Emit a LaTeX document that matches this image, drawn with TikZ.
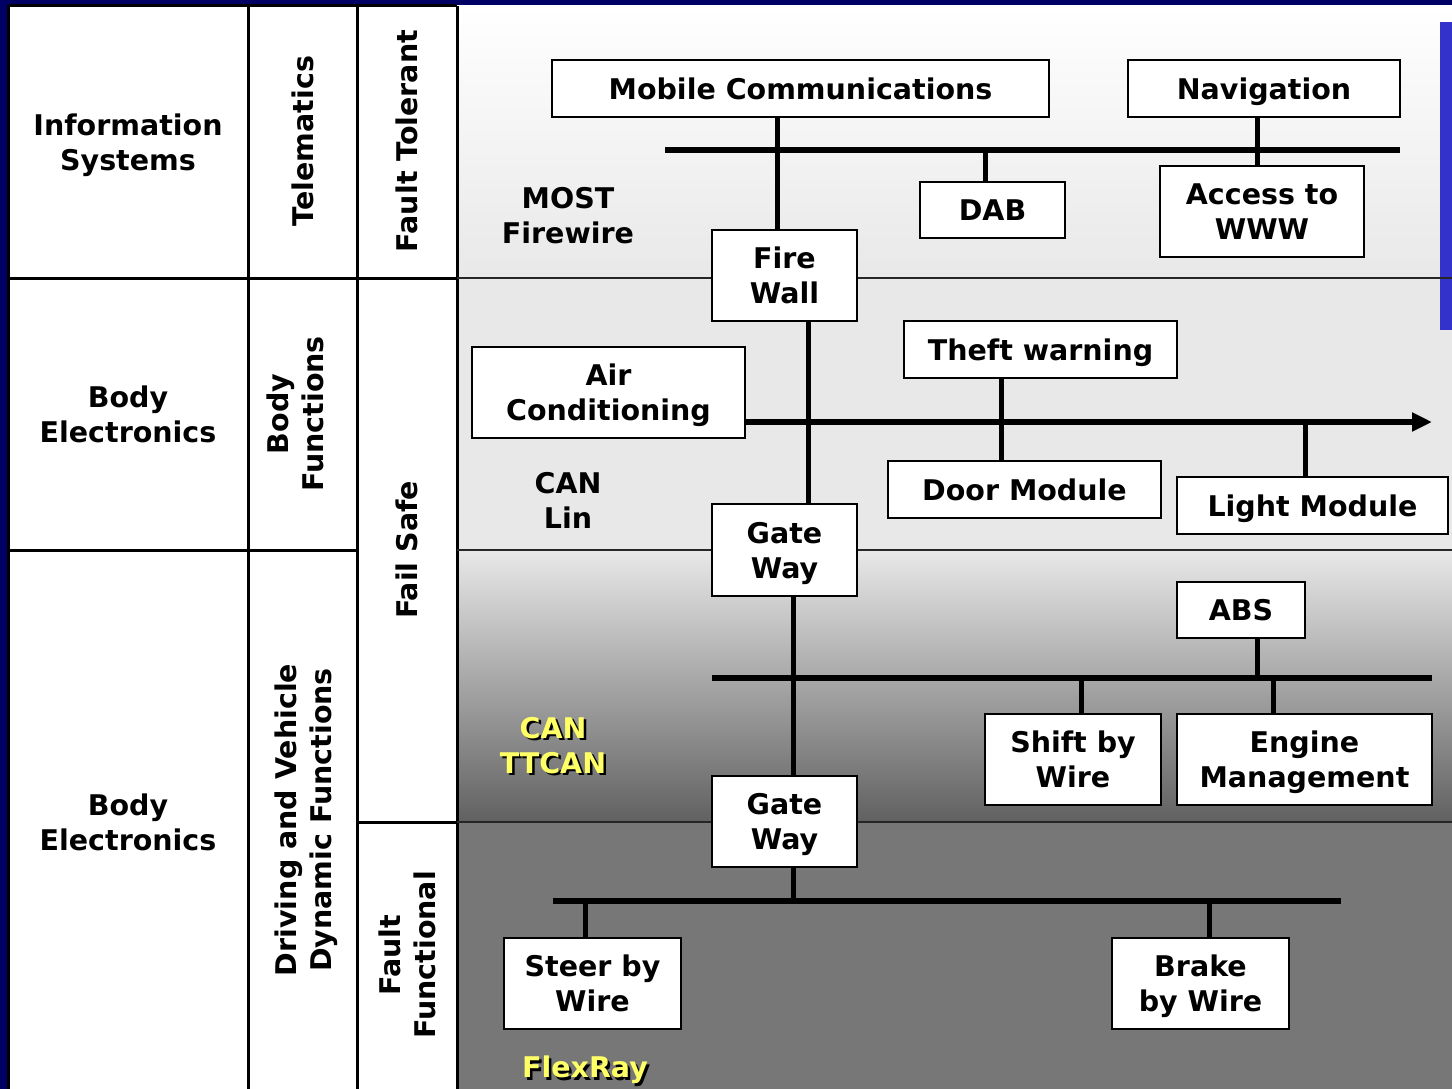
\documentclass[tikz,border=0pt]{standalone}
\usepackage{fontspec}
\setmainfont{DejaVu Sans}
\usetikzlibrary{arrows.meta}
\definecolor{navy}{RGB}{0,0,100}
\definecolor{barblue}{RGB}{51,51,204}
\definecolor{lab}{RGB}{255,255,102}
\definecolor{bandlight}{RGB}{232,232,232}
\definecolor{banddark}{RGB}{119,119,119}
\newcommand\dfont{\fontsize{28.5}{35}\selectfont\bfseries}
\tikzset{
  box/.style={draw=black, line width=2pt, fill=white, inner sep=0pt, align=center, font=\dfont, text depth=0pt},
  txt/.style={inner sep=0pt, align=center, font=\dfont, text depth=0pt},
  bus/.style={line width=6pt},
  vl/.style={line width=5pt},
  grid/.style={line width=3pt},
  band/.style={line width=2.5pt, draw=black!85}
}
\begin{document}
\begin{tikzpicture}[x=1pt, y=-1pt]
\useasboundingbox (0,0) rectangle (1452,1089);
% background
\fill[navy] (0,0) rectangle (1452,1089);
\fill[white] (8,6) rectangle (457,1089);
\shade[top color=white, bottom color=bandlight] (457,6) rectangle (1452,278);
\fill[bandlight] (457,278) rectangle (1452,550);
\shade[top color=bandlight, middle color=black!30, bottom color=black!62] (457,550) rectangle (1452,822);
\fill[banddark] (457,822) rectangle (1452,1089);
\fill[barblue] (1440,22) rectangle (1452,330);
% table grid
\draw[grid] (8,6) -- (457,6);
\draw[grid] (8,6) -- (8,1089);
\draw[grid] (248,6) -- (248,1089);
\draw[grid] (357,6) -- (357,1089);
\draw[grid] (457,6) -- (457,1089);
\draw[grid] (8,278) -- (457,278);
\draw[grid] (8,550) -- (357,550);
\draw[grid] (357,822) -- (457,822);
\draw[band] (457,278) -- (1452,278);
\draw[band] (457,550) -- (1452,550);
\draw[band] (457,822) -- (1452,822);
% left labels
\node[txt] (is) at (128,142) {Information\\Systems};
\node[txt] (be1) at (128,414) {Body\\Electronics};
\node[txt] (be2) at (128,822) {Body\\Electronics};
\node[txt,rotate=90] (tel) at (303,141) {Telematics};
\node[txt,rotate=90] (bf) at (295,414) {Body\\Functions};
\node[txt,rotate=90] (dv) at (303,820) {Driving and Vehicle\\Dynamic Functions};
\node[txt,rotate=90] (ft) at (407,141) {Fault Tolerant};
\node[txt,rotate=90] (fs) at (407,550) {Fail Safe};
\node[txt,rotate=90] (ff) at (407,955) {Fault\\Functional};
% boxes
\node[box, minimum width=497pt, minimum height=57pt] (mc) at (800.5,88.5) {Mobile Communications};
\node[box, minimum width=272pt, minimum height=57pt] (nav) at (1264,88.5) {Navigation};
\node[box, minimum width=145pt, minimum height=56pt] (dab) at (992.5,210) {DAB};
\node[box, minimum width=204pt, minimum height=91pt] (www) at (1262,211.5) {Access to\\WWW};
\node[box, minimum width=145pt, minimum height=91pt] (fw) at (784.5,275.5) {Fire\\Wall};
\node[box, minimum width=273pt, minimum height=57pt] (tw) at (1040.5,349.5) {Theft warning};
\node[box, minimum width=273pt, minimum height=91pt] (ac) at (608.5,392.5) {Air\\Conditioning};
\node[box, minimum width=273pt, minimum height=57pt] (dm) at (1024.5,489.5) {Door Module};
\node[box, minimum width=271pt, minimum height=57pt] (lm) at (1312.5,505.5) {Light Module};
\node[box, minimum width=145pt, minimum height=92pt] (gw1) at (784.5,550) {Gate\\Way};
\node[box, minimum width=128pt, minimum height=56pt] (abs) at (1241,610) {ABS};
\node[box, minimum width=176pt, minimum height=91pt] (sbw) at (1073,759.5) {Shift by\\Wire};
\node[box, minimum width=255pt, minimum height=91pt] (em) at (1304.5,759.5) {Engine\\Management};
\node[box, minimum width=145pt, minimum height=91pt] (gw2) at (784.5,821.5) {Gate\\Way};
\node[box, minimum width=177pt, minimum height=91pt] (sw) at (592.5,983.5) {Steer by\\Wire};
\node[box, minimum width=177pt, minimum height=91pt] (bw) at (1200.5,983.5) {Brake\\by Wire};
% bus coordinates
\coordinate (b1w) at (665,150);
\coordinate (b1e) at (1400,150);
\coordinate (b2e) at (1432,422);
\coordinate (b3w) at (712,678);
\coordinate (b3e) at (1432,678);
\coordinate (b4w) at (553,901);
\coordinate (b4e) at (1341,901);
% bus labels
\node[txt] (most) at (568,215) {MOST\\Firewire};
\node[txt] (canlin) at (568,500) {CAN\\Lin};
\node[txt, text=black] (ttcans) at (555.5,747.5) {CAN\\TTCAN};
\node[txt, text=lab] (ttcan) at (553,745) {CAN\\TTCAN};
\node[txt, text=black] (flexs) at (587.5,1069.5) {FlexRay};
\node[txt, text=lab] (flex) at (585,1067) {FlexRay};
% lines
\draw[bus] (b1w) -- (b1e);
\draw[vl] ([xshift=-23.5pt]mc.south) -- ([xshift=-7.5pt]fw.north);
\draw[vl] ([xshift=-7pt]nav.south) -- ([xshift=-5pt]www.north);
\draw[vl] ([xshift=-7.5pt]dab.north) -- ([xshift=-7.5pt]dab.north |- b1w);
\draw[vl] ([xshift=23.5pt]fw.south) -- ([xshift=23.5pt]gw1.north);
\draw[bus, -{Triangle[length=20pt,width=18pt]}] ([yshift=-29.5pt]ac.east) -- (b2e);
\draw[vl] ([xshift=-39.5pt]tw.south) -- ([xshift=-23.5pt]dm.north);
\draw[vl] ([xshift=-7.5pt]lm.north) -- ([xshift=-7.5pt]lm.north |- b2e);
\draw[vl] ([xshift=8.5pt]gw1.south) -- ([xshift=8.5pt]gw2.north);
\draw[bus] (b3w) -- (b3e);
\draw[vl] ([xshift=16pt]abs.south) -- ([xshift=16pt]abs.south |- b3w);
\draw[vl] ([xshift=8pt]sbw.north) -- ([xshift=8pt]sbw.north |- b3w);
\draw[vl] ([xshift=-31.5pt]em.north) -- ([xshift=-31.5pt]em.north |- b3w);
\draw[vl] ([xshift=8.5pt]gw2.south) -- ([xshift=8.5pt]gw2.south |- b4w);
\draw[bus] (b4w) -- (b4e);
\draw[vl] ([xshift=-7.5pt]sw.north) -- ([xshift=-7.5pt]sw.north |- b4w);
\draw[vl] ([xshift=8.5pt]bw.north) -- ([xshift=8.5pt]bw.north |- b4w);
\end{tikzpicture}
\end{document}
